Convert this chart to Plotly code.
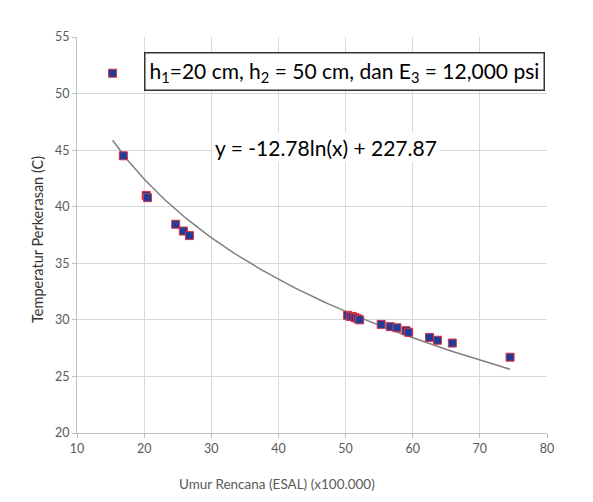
import numpy as np
import plotly.graph_objects as go

# Data
esal = [15.3, 16.9, 20.3, 20.5, 24.7, 25.85, 26.75,
        50.3, 50.7, 51.0, 51.4, 51.8, 52.1,
        55.3, 56.65, 57.65, 59.0, 59.4, 62.5, 63.7, 65.9, 74.5]
temp = [51.8, 44.5, 41.0, 40.8, 38.45, 37.85, 37.45,
        30.4, 30.3, 30.3, 30.2, 30.1, 30.0,
        29.6, 29.4, 29.3, 29.05, 28.9, 28.45, 28.2, 27.95, 26.7]

# Trendline from the displayed equation y = -12.78 ln(x) + 227.87 (x in ESAL)
coef_a = -12.78
coef_b = 227.87
x_scale = 100000
x_fit = np.linspace(min(esal), max(esal), 200)
y_fit = coef_a * np.log(x_fit * x_scale) + coef_b

x_ticks = [10, 20, 30, 40, 50, 60, 70, 80]
y_ticks = [20, 25, 30, 35, 40, 45, 50, 55]

FONT = "Lato, Open Sans, sans-serif"
GRID = "#d9d9d9"
TXT = "#595959"

fig = go.Figure()
fig.add_trace(go.Scatter(x=x_fit, y=y_fit, mode="lines",
                         line=dict(color="#7f7f7f", width=1.5),
                         hoverinfo="skip", showlegend=False))
fig.add_trace(go.Scatter(x=esal, y=temp, mode="markers",
                         marker=dict(symbol="square", size=8, color="#1f3c99",
                                     line=dict(color="#e0323c", width=1)),
                         showlegend=False))

fig.update_layout(
    width=593, height=502,
    margin=dict(l=77, r=46, t=37, b=69),
    paper_bgcolor="white", plot_bgcolor="white",
    font=dict(family=FONT, color=TXT, size=12),
    xaxis=dict(range=[10, 80], tickvals=x_ticks, showgrid=True, gridcolor=GRID,
               gridwidth=1, showline=True, linecolor="#bfbfbf", linewidth=1,
               ticks="outside", ticklen=4, tickcolor="#bfbfbf", zeroline=False,
               tickfont=dict(size=12.5, color=TXT, family=FONT)),
    yaxis=dict(range=[20, 55], tickvals=y_ticks, showgrid=True, gridcolor=GRID,
               gridwidth=1, showline=True, linecolor="#bfbfbf", linewidth=1,
               ticks="outside", ticklen=4, tickcolor="#bfbfbf", zeroline=False,
               tickfont=dict(size=12.5, color=TXT, family=FONT)),
    annotations=[
        dict(text="h<sub>1</sub>=20 cm, h<sub>2</sub> = 50 cm, dan E<sub>3</sub> = 12,000 psi",
             xref="paper", yref="paper", x=0.57, y=0.912, showarrow=False,
             font=dict(size=21, color="black", family=FONT),
             bordercolor="#333333", borderwidth=1.5, borderpad=4, bgcolor="white",
             xanchor="center", yanchor="middle"),
        dict(text="y = -12.78ln(x) + 227.87",
             xref="paper", yref="paper", x=0.53, y=0.72, showarrow=False,
             font=dict(size=21, color="black", family=FONT),
             bgcolor="white", borderpad=2,
             xanchor="center", yanchor="middle"),
        dict(text="Umur Rencana (ESAL) (x100.000)",
             xref="paper", yref="paper", x=(277 - 77) / 470, y=-0.13,
             showarrow=False, font=dict(size=13.5, color=TXT, family=FONT),
             xanchor="center", yanchor="middle"),
        dict(text="Temperatur Perkerasan (C)",
             xref="paper", yref="paper", x=(37 - 77) / 470, y=(433 - 240) / 396,
             showarrow=False, textangle=-90, font=dict(size=14.5, color="#333333", family=FONT),
             xanchor="center", yanchor="middle"),
    ],
)

fig.write_html("out.html")
